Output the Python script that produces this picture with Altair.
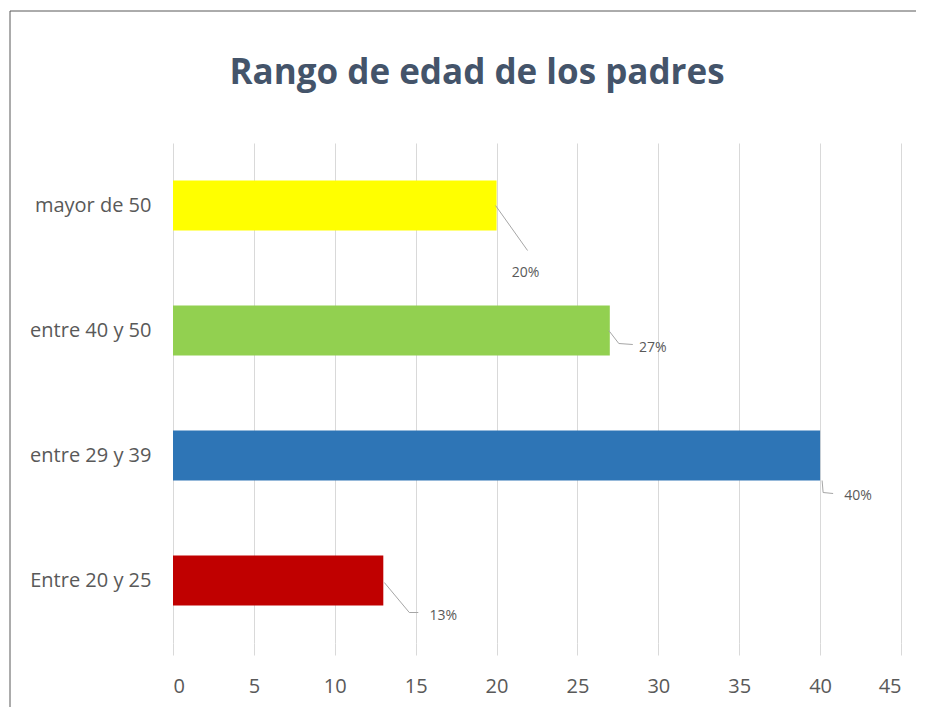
import altair as alt
import pandas as pd

# ---- data ----
categories = ["Entre 20 y 25", "entre 29 y 39", "entre 40 y 50", "mayor de 50"]
values = [13, 40, 27, 20]
pct_labels = ["13%", "40%", "27%", "20%"]
colors = ["#C00000", "#2E75B6", "#92D050", "#FFFF00"]
x_ticks = [0, 5, 10, 15, 20, 25, 30, 35, 40, 45]

# ---- styling (pixel offsets of leader lines / labels from the bar end) ----
W, H = 728, 500
XMAX = 45
px_x = W / XMAX          # px per x unit
px_y = H / 4.0           # px per category step
leader_px = [
    [(1, 2), (26, 32), (35, 32)],
    [(2, 25), (3, 37), (13, 38)],
    [(-1, 0), (9, 13), (23, 14)],
    [(-1, 0), (31, 45), (31, 45)],
]
label_px = [(60, 35), (38, 40), (43, 17), (29, 67)]
half_bar = 0.2

idx = list(range(len(categories)))
bars = pd.DataFrame({
    "cat": categories, "val": values, "idx": idx,
    "y0": [i - half_bar for i in idx], "y1": [i + half_bar for i in idx],
})
lead_rows = []
for i, pts in enumerate(leader_px):
    for k, (dx, dy) in enumerate(pts):
        lead_rows.append({"cat": categories[i], "order": k,
                          "lx": values[i] + dx / px_x, "ly": i - dy / px_y})
leaders = pd.DataFrame(lead_rows)
labs = pd.DataFrame({
    "lab": pct_labels,
    "tx": [values[i] + label_px[i][0] / px_x for i in idx],
    "ty": [i - label_px[i][1] / px_y for i in idx],
})

FONT = "Open Sans"
label_expr = "[" + ",".join("'" + c + "'" for c in categories) + "][datum.value]"

xscale = alt.Scale(domain=[0, XMAX], nice=False, zero=True)
yscale = alt.Scale(domain=[-0.5, 3.5], nice=False, zero=False)

bar_layer = alt.Chart(bars).mark_bar(stroke=None).encode(
    x=alt.X("val:Q", scale=xscale, title=None,
            axis=alt.Axis(values=x_ticks, grid=True, gridColor="#D9D9D9", domain=False,
                          ticks=True, tickColor="#D9D9D9", tickSize=12,
                          labelFont=FONT, labelFontSize=20, labelColor="#595959",
                          labelPadding=21)),
    x2=alt.value(0),
    y=alt.Y("y0:Q", scale=yscale, title=None,
            axis=alt.Axis(values=idx, labelExpr=label_expr, grid=False, domain=False,
                          ticks=False, labelFont=FONT, labelFontSize=20,
                          labelColor="#595959", labelPadding=22)),
    y2="y1:Q",
    color=alt.Color("cat:N", scale=alt.Scale(domain=categories, range=colors), legend=None),
)

lead_layer = alt.Chart(leaders).mark_line(color="#A6A6A6", strokeWidth=1).encode(
    x=alt.X("lx:Q", scale=xscale),
    y=alt.Y("ly:Q", scale=yscale),
    detail="cat:N",
    order="order:Q",
)

text_layer = alt.Chart(labs).mark_text(font=FONT, fontSize=14, color="#595959",
                                        align="center", baseline="middle").encode(
    x=alt.X("tx:Q", scale=xscale),
    y=alt.Y("ty:Q", scale=yscale),
    text="lab:N",
)

border = alt.Chart(pd.DataFrame({"a": [0]})).mark_rect(
    fill=None, stroke="#595959", strokeWidth=1, clip=False
).encode(
    x=alt.value(-163), x2=alt.value(780), y=alt.value(-132), y2=alt.value(580)
)

chart = alt.layer(border, bar_layer, lead_layer, text_layer).properties(
    width=W, height=H,
    title=alt.TitleParams("Rango de edad de los padres", font=FONT, fontSize=35,
                          fontWeight="bold", color="#44546A", anchor="middle",
                          frame="group", dx=-60, offset=-80),
    autosize=alt.AutoSizeParams(type="none"),
    padding={"left": 165, "top": 135, "right": 15, "bottom": 64},
).configure_view(stroke=None)

chart.save("out.html", embed_options={"renderer": "svg", "actions": False})
